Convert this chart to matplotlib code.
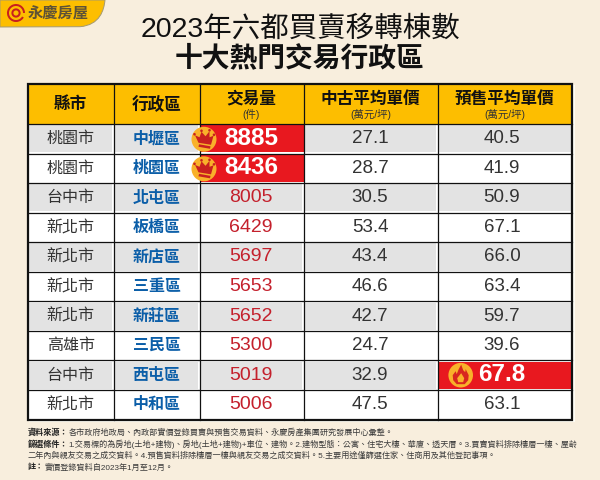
import matplotlib
matplotlib.use("Agg")
import matplotlib.pyplot as plt
from matplotlib.patches import Rectangle, Circle, Polygon, Wedge, PathPatch
from matplotlib.path import Path

plt.rcParams['font.family'] = ['Liberation Sans', 'Noto Sans CJK TC', 'DejaVu Sans']

title_lines = ["2023年六都買賣移轉棟數", "十大熱門交易行政區"]
headers = ["縣市", "行政區", "交易量", "中古平均單價", "預售平均單價"]
units = ["", "", "(件)", "(萬元/坪)", "(萬元/坪)"]
cities = ["桃園市", "桃園市", "台中市", "新北市", "新北市", "新北市", "新北市", "高雄市", "台中市", "新北市"]
districts = ["中壢區", "桃園區", "北屯區", "板橋區", "新店區", "三重區", "新莊區", "三民區", "西屯區", "中和區"]
volumes = [8885, 8436, 8005, 6429, 5697, 5653, 5652, 5300, 5019, 5006]
used_prices = [27.1, 28.7, 30.5, 53.4, 43.4, 46.6, 42.7, 24.7, 32.9, 47.5]
presale_prices = [40.5, 41.9, 50.9, 67.1, 66.0, 63.4, 59.7, 39.6, 67.8, 63.1]
notes = [
    ("資料來源：", "各市政府地政局、內政部實價登錄買賣與預售交易資料、永慶房產集團研究發展中心彙整。"),
    ("篩選條件：", "1.交易標的為房地(土地+建物)、房地(土地+建物)+車位、建物。2.建物型態：公寓、住宅大樓、華廈、透天厝。3.買賣資料排除樓層一樓、屋齡"),
    ("", "二年內與親友交易之成交資料。4.預售資料排除樓層一樓與親友交易之成交資料。5.主要用途僅篩選住家、住商用及其他登記事項。"),
    ("註：", "實價登錄資料自2023年1月至12月。"),
]

BG = "#F8EEDD"
GOLD = "#FDBE00"
ICON = "#F9B12A"
GRAY = "#E3E3E3"
RED = "#E8181F"
BLUE = "#0B5EA8"
DARK = "#333333"

col_x = [28, 113.5, 199.5, 303.5, 437.5, 572]
header_top, header_bottom = 84, 124
row_h = (419.5 - header_bottom) / len(cities)
inset = 1.2


def crown(ax, cx, cy):
    ax.add_patch(Circle((cx, cy), 12.5, fc=ICON, ec="none", zorder=5))
    pts = [(cx - 9, cy - 4), (cx - 4.5, cy - 2), (cx - 2.5, cy - 7.5), (cx + 1.5, cy - 3),
           (cx + 5.5, cy - 8), (cx + 5.5, cy - 2), (cx + 9.5, cy - 3.5), (cx + 7, cy + 5.5), (cx - 5.5, cy + 3.5)]
    ax.add_patch(Polygon(pts, fc="#C8201F", ec="none", zorder=6))
    ax.add_patch(Polygon([(cx - 5, cy + 5), (cx + 6.5, cy + 7), (cx + 6, cy + 9.5), (cx - 5.5, cy + 7.5)],
                         fc="#C8201F", ec="none", zorder=6))
    for dx, dy in [(-9.5, -5), (-2.5, -8.5), (5.5, -9), (10, -4.5)]:
        ax.add_patch(Circle((cx + dx, cy + dy), 1.3, fc="#C8201F", ec="none", zorder=6))


def flame(ax, cx, cy):
    ax.add_patch(Circle((cx, cy), 12.3, fc=ICON, ec="none", zorder=5))
    pts = [(cx + 0.5, cy - 10.5), (cx + 2.5, cy - 5), (cx + 4.5, cy - 3), (cx + 5, cy - 6),
           (cx + 8, cy), (cx + 7.5, cy + 5), (cx + 4, cy + 9), (cx - 4, cy + 9), (cx - 7.5, cy + 5),
           (cx - 8, cy), (cx - 5, cy - 4), (cx - 4, cy - 1), (cx - 2, cy - 6)]
    ax.add_patch(Polygon(pts, fc="#D8261F", ec="none", zorder=6))
    inner = [(cx + 0.5, cy - 2), (cx + 3.5, cy + 3), (cx + 2.5, cy + 7), (cx - 2.5, cy + 7), (cx - 3.5, cy + 3)]
    ax.add_patch(Polygon(inner, fc=ICON, ec="none", zorder=7))


def logo(ax):
    # tab in the top left corner
    verts = [(0, 0), (105, 0), (104, 10), (100, 25), (80, 26.7), (0, 27), (0, 0)]
    codes = [Path.MOVETO, Path.LINETO, Path.CURVE4, Path.CURVE4, Path.CURVE4, Path.LINETO, Path.CLOSEPOLY]
    ax.add_patch(PathPatch(Path(verts, codes), fc=GOLD, ec="#A59A70", lw=0.7, zorder=2))
    ax.add_patch(Wedge((16, 13), 9, 30, 360, width=2, fc="#C8201F", ec="none", zorder=3))
    ax.add_patch(Wedge((16, 13), 4.6, 0, 360, width=2, fc="#C8201F", ec="none", zorder=3))
    ax.text(58, 13, "永慶房屋", fontsize=11, fontweight="bold", color="#5E5236",
            ha="center", va="center", zorder=3)


def main():
    fig = plt.figure(figsize=(6, 4.8), dpi=100, facecolor=BG)
    ax = fig.add_axes([0, 0, 1, 1])
    ax.set_xlim(0, 600)
    ax.set_ylim(480, 0)
    ax.axis("off")

    logo(ax)
    ax.text(300, 29, title_lines[0], fontsize=20.5, color="#111111", ha="center", va="center")
    ax.text(300, 59, title_lines[1], fontsize=20, fontweight="bold", color="#111111", ha="center", va="center")

    # pale edge behind the table
    ax.add_patch(Rectangle((29, 85), 545.5, 337, fc="#FFFDF5", ec="none", zorder=0))

    # header row
    for i in range(5):
        x0, x1 = col_x[i], col_x[i + 1]
        ax.add_patch(Rectangle((x0, header_top), x1 - x0, header_bottom - header_top, fc=GOLD, ec="none"))
        xc = (x0 + x1) / 2
        if units[i]:
            ax.text(xc, 99, headers[i], fontsize=12, fontweight="bold", color="#111111", ha="center", va="center")
            ax.text(xc, 114, units[i], fontsize=7.5, color=DARK, ha="center", va="center")
        else:
            ax.text(xc, 104.5, headers[i], fontsize=12, fontweight="bold", color="#111111", ha="center", va="center")

    # body rows
    for r in range(len(cities)):
        y0 = header_bottom + r * row_h
        yc = y0 + row_h / 2
        ax.add_patch(Rectangle((col_x[0], y0), col_x[5] - col_x[0], row_h, fc="white", ec="none"))
        if r % 2 == 0:
            for i in range(5):
                ax.add_patch(Rectangle((col_x[i] + inset, y0 + inset), col_x[i + 1] - col_x[i] - 2 * inset,
                                       row_h - 2 * inset, fc=GRAY, ec="none"))

        ax.text((col_x[0] + col_x[1]) / 2, yc, cities[r], fontsize=11.5, color=DARK, ha="center", va="center")
        ax.text(156.5, yc, districts[r], fontsize=11.5, fontweight="bold", color=BLUE, ha="center", va="center")

        if r < 2:
            ax.add_patch(Rectangle((col_x[2], y0 + inset), col_x[3] - col_x[2], row_h - 2 * inset, fc=RED, ec="none"))
            ax.text(251, yc - 0.5, str(volumes[r]), fontsize=17.5, fontweight="bold", color="white", ha="center", va="center", zorder=6)
            crown(ax, 204, yc + 0.5)
        else:
            ax.text(251, yc, str(volumes[r]), fontsize=14, color="#C4202C", ha="center", va="center")

        ax.text(370, yc, f"{used_prices[r]:.1f}", fontsize=13.5, color=DARK, ha="center", va="center")
        if presale_prices[r] == max(presale_prices):
            ax.add_patch(Rectangle((col_x[4], y0 + inset), col_x[5] - col_x[4], row_h - 2 * inset, fc=RED, ec="none"))
            ax.text(502, yc - 0.5, f"{presale_prices[r]:.1f}", fontsize=17.5, fontweight="bold", color="white", ha="center", va="center", zorder=6)
            flame(ax, 460.7, yc)
        else:
            ax.text(502, yc, f"{presale_prices[r]:.1f}", fontsize=13.5, color=DARK, ha="center", va="center")

    # grid lines, icons sit on top of them
    for r in range(1, len(cities)):
        y = header_bottom + r * row_h
        ax.plot([col_x[0], col_x[5]], [y, y], color="#111111", lw=0.9, zorder=3)
    ax.plot([col_x[0], col_x[5]], [header_bottom, header_bottom], color="#111111", lw=0.9, zorder=3)
    for x in col_x[1:-1]:
        ax.plot([x, x], [header_top, 419.5], color="#111111", lw=0.9, zorder=3)
    ax.add_patch(Rectangle((col_x[0], header_top), col_x[5] - col_x[0], 419.5 - header_top,
                           fc="none", ec="#111111", lw=1.6, zorder=4))

    # footnotes
    note_y = [433, 444.5, 456, 467.5]
    for (label, body), y in zip(notes, note_y):
        x = 28
        if label:
            t = ax.text(x, y, label, fontsize=5.85, fontweight="bold", color="#222222", ha="left", va="center")
            bb = t.get_window_extent(fig.canvas.get_renderer())
            x = bb.x1
        ax.text(x, y, body, fontsize=5.85, color="#3A3A3A", ha="left", va="center")

    fig.savefig("out.png", dpi=100, facecolor=BG)


if __name__ == "__main__":
    main()
